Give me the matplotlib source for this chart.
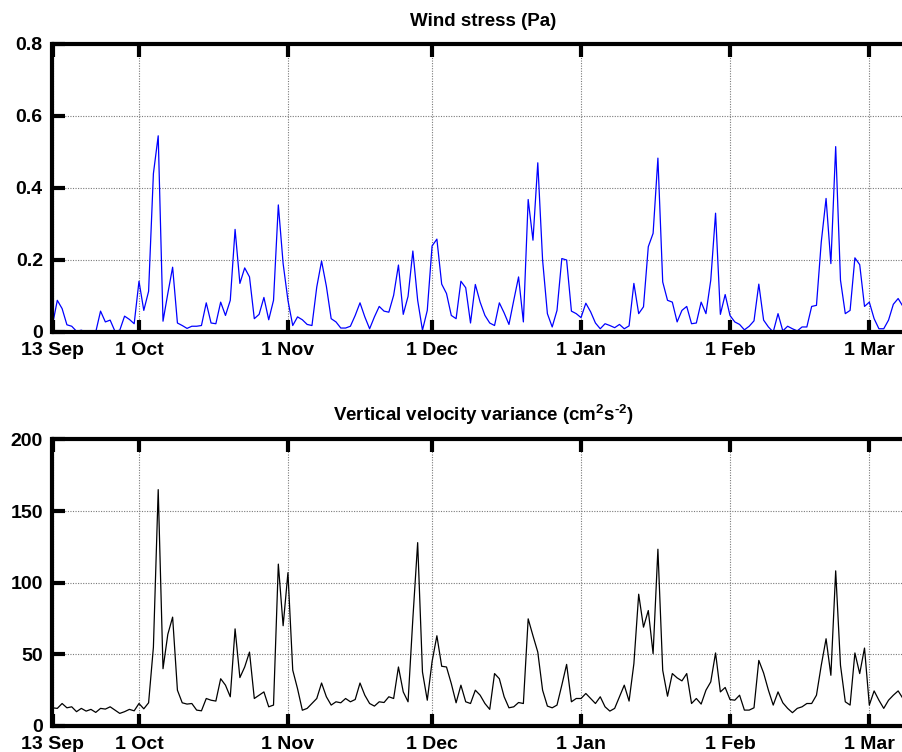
import matplotlib
matplotlib.use("Agg")
import matplotlib.pyplot as plt
import numpy as np
import pandas as pd

# daily values starting 13 Sep 2007
start_day = "2007-09-13"

wind_stress = [
    0.02, 0.088, 0.065, 0.02, 0.016, 0.002, 0.005, 0.0, 0.0, 0.0,
    0.058, 0.028, 0.033, 0.002, 0.005, 0.044, 0.035, 0.023, 0.141, 0.06,
    0.113, 0.44, 0.545, 0.03, 0.107, 0.18, 0.025, 0.018, 0.01, 0.016,
    0.016, 0.018, 0.081, 0.025, 0.023, 0.083, 0.046, 0.088, 0.285, 0.135,
    0.178, 0.153, 0.037, 0.049, 0.096, 0.034, 0.088, 0.353, 0.19, 0.088,
    0.018, 0.042, 0.034, 0.021, 0.018, 0.125, 0.197, 0.127, 0.037, 0.028,
    0.011, 0.011, 0.016, 0.046, 0.081, 0.042, 0.009, 0.042, 0.071, 0.058,
    0.055, 0.102, 0.186, 0.049, 0.099, 0.225, 0.088, 0.005, 0.06, 0.239,
    0.258, 0.133, 0.107, 0.046, 0.037, 0.141, 0.123, 0.025, 0.132, 0.083,
    0.046, 0.025, 0.018, 0.081, 0.053, 0.021, 0.088, 0.153, 0.028, 0.368,
    0.255, 0.47, 0.2, 0.051, 0.014, 0.06, 0.204, 0.2, 0.058, 0.051,
    0.04, 0.08, 0.056, 0.025, 0.009, 0.023, 0.018, 0.012, 0.021, 0.009,
    0.017, 0.135, 0.051, 0.07, 0.237, 0.274, 0.483, 0.139, 0.088, 0.083,
    0.028, 0.06, 0.071, 0.023, 0.025, 0.083, 0.051, 0.144, 0.33, 0.049,
    0.104, 0.046, 0.028, 0.021, 0.006, 0.016, 0.031, 0.133, 0.033, 0.014,
    0.0, 0.051, 0.003, 0.016, 0.009, 0.003, 0.014, 0.014, 0.071, 0.074,
    0.25, 0.371, 0.19, 0.515, 0.144, 0.051, 0.06, 0.206, 0.187, 0.071,
    0.083, 0.037, 0.009, 0.009, 0.033, 0.077, 0.093, 0.071,
]

w_variance = [
    12.7, 12.3, 15.7, 12.7, 13.4, 10.0, 12.3, 10.4, 11.6, 9.5,
    12.3, 11.8, 13.4, 11.1, 8.8, 10.0, 11.6, 10.6, 15.7, 12.0,
    16.2, 55.0, 165.0, 40.0, 64.0, 76.0, 25.0, 16.2, 15.3, 15.7,
    11.1, 10.6, 19.2, 18.0, 17.4, 33.0, 28.5, 20.4, 67.8, 33.8,
    41.2, 51.6, 19.2, 21.5, 23.8, 13.4, 14.6, 113.0, 70.0, 107.0,
    39.0, 26.0, 11.0, 12.3, 15.7, 19.2, 30.0, 20.4, 14.6, 16.9,
    16.2, 19.2, 16.9, 18.5, 30.0, 21.5, 15.7, 13.9, 16.9, 16.4,
    20.4, 19.2, 41.2, 23.8, 16.9, 75.0, 128.0, 37.7, 18.0, 45.0,
    63.0, 41.7, 41.2, 29.6, 16.2, 28.5, 16.9, 15.7, 25.0, 21.5,
    15.7, 11.6, 36.6, 33.0, 20.4, 12.7, 13.4, 16.4, 15.7, 74.8,
    63.0, 51.6, 25.0, 13.9, 12.7, 14.6, 28.5, 43.0, 16.9, 19.2,
    19.2, 22.7, 19.2, 15.7, 20.4, 13.4, 10.4, 12.3, 20.4, 28.5,
    17.4, 43.5, 92.0, 69.0, 80.6, 50.5, 123.4, 38.9, 20.8, 36.6,
    33.6, 31.5, 36.6, 15.7, 19.2, 15.3, 25.0, 30.8, 51.0, 23.8,
    26.9, 18.5, 18.0, 21.5, 11.1, 11.1, 12.7, 45.8, 37.0, 25.0,
    14.6, 23.8, 16.2, 12.3, 9.3, 12.3, 13.4, 15.7, 15.7, 21.5,
    42.4, 60.9, 35.4, 108.3, 42.4, 16.9, 14.6, 51.0, 36.6, 54.4,
    14.6, 24.5, 18.0, 12.3, 18.0, 21.5, 24.5, 19.2,
]

tick_dates = ["2007-09-13", "2007-10-01", "2007-11-01", "2007-12-01",
              "2008-01-01", "2008-02-01", "2008-03-01"]
tick_labels = ["13 Sep", "1 Oct", "1 Nov", "1 Dec", "1 Jan", "1 Feb", "1 Mar"]

wind_yticks = [0, 0.2, 0.4, 0.6, 0.8]
wind_yticklabels = ["0", "0.2", "0.4", "0.6", "0.8"]
var_yticks = [0, 50, 100, 150, 200]

plt.rcParams['font.family'] = ['Liberation Sans', 'DejaVu Sans']
plt.rcParams['font.weight'] = 'bold'
plt.rcParams['mathtext.fontset'] = 'custom'
plt.rcParams['mathtext.rm'] = 'Liberation Sans:bold'
plt.rcParams['mathtext.bf'] = 'Liberation Sans:bold'
plt.rcParams['mathtext.it'] = 'Liberation Sans:bold'
plt.rcParams['mathtext.default'] = 'rm'

W, H = 903, 752
fig = plt.figure(figsize=(W / 100, H / 100), dpi=100)

dates = pd.date_range(start_day, periods=len(wind_stress), freq="D")
ticks = pd.to_datetime(tick_dates)
x0 = pd.Timestamp(start_day)
x1 = x0 + pd.Timedelta(days=179.3)

left = 52.5
right = 914.0


def style_axes(ax, yticks, ylabels, title):
    ax.set_xlim(x0, x1)
    ax.set_xticks(ticks)
    ax.set_xticklabels(tick_labels)
    ax.set_ylim(yticks[0], yticks[-1])
    ax.set_yticks(yticks)
    ax.set_yticklabels(ylabels)
    ax.grid(True, linestyle=(0, (1, 1.3)), color="#7a7a7a", linewidth=0.8)
    for s in ax.spines.values():
        s.set_linewidth(3)
    ax.tick_params(direction="in", length=9, width=3, labelsize=14,
                   top=True, right=True, pad=7)
    for lab in ax.get_xticklabels() + ax.get_yticklabels():
        lab.set_fontweight("bold")
    ax.set_title(title, fontsize=13.5, fontweight="bold", pad=13)


ax1 = fig.add_axes([left / W, 1 - 332 / H, (right - left) / W, (332 - 44) / H])
ax1.plot(dates, wind_stress, color="#0000ff", linewidth=0.9)
style_axes(ax1, wind_yticks, wind_yticklabels, "Wind stress (Pa)")

ax2 = fig.add_axes([left / W, 1 - 726 / H, (right - left) / W, (726 - 439.5) / H])
ax2.plot(dates, w_variance, color="black", linewidth=0.9)
style_axes(ax2, var_yticks, [str(v) for v in var_yticks],
           r"Vertical velocity variance (cm$^{2}$s$^{\text{-2}}$)")

fig.savefig("out.png", dpi=100)
